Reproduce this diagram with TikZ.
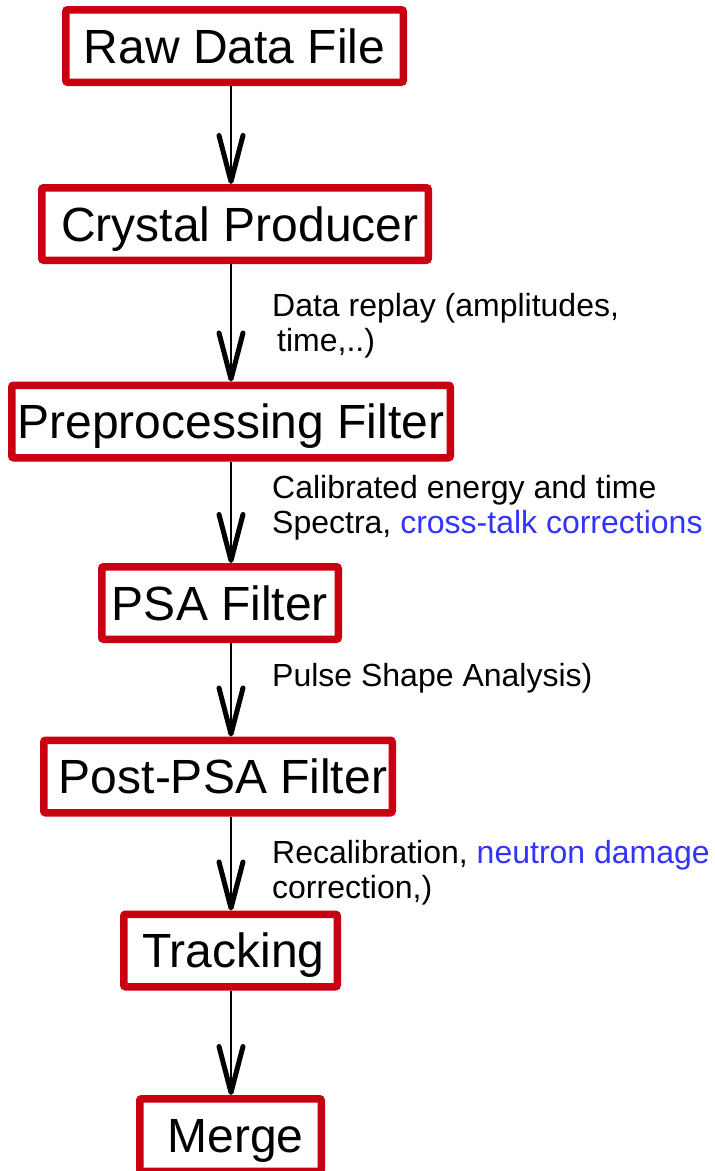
\documentclass[tikz,border=0pt]{standalone}
\usepackage{fontspec}
\setmainfont{Liberation Sans}
\usetikzlibrary{arrows.meta}
\definecolor{boxred}{RGB}{200,0,18}
\definecolor{noteblue}{RGB}{51,51,255}

\begin{document}
\begin{tikzpicture}[x=1pt,y=-1pt,
  stage/.style={draw=boxred,line width=7.5pt,rounded corners=2pt,inner sep=0pt,
    minimum height=72.5pt,text height=34pt,text depth=0pt,
    font=\fontsize{48}{56}\selectfont},
  flow/.style={line width=2pt,-{Straight Barb[length=46pt,width=24pt,line width=5pt,round]}},
  note/.style={anchor=base west,align=left,inner sep=0pt,
    font=\fontsize{32}{35}\selectfont}]
%%Frame
\useasboundingbox (0,0) rectangle (715,1171);
\coordinate (spine) at (231,0);

%%Stages
\node[stage,minimum width=337.5pt] (raw) at (234.5,46) {Raw Data File};
\node[stage,minimum width=386.5pt] (crystal) at (235,224) {\hspace{10pt}Crystal Producer};
\node[stage,minimum width=438.5pt] (prep) at (231,421.5) {Preprocessing Filter\hspace{4pt}};
\node[stage,minimum width=236.5pt] (psa) at (220,603) {PSA Filter\hspace{14pt}};
\node[stage,minimum width=348.5pt] (postpsa) at (218,776.5) {\hspace{10pt}Post-PSA Filter};
\node[stage,minimum width=213.5pt] (track) at (230.5,950.5) {\hspace{6pt}Tracking};
\node[stage,minimum width=181.5pt] (merge) at (230.5,1135) {\hspace{10pt}Merge};

%%Flow
\draw[flow] (raw.south -| spine) -- (crystal.north -| spine);
\draw[flow] (crystal.south -| spine) -- (prep.north -| spine);
\draw[flow] (prep.south -| spine) -- (psa.north -| spine);
\draw[flow] (psa.south -| spine) -- (postpsa.north -| spine);
\draw[flow] (postpsa.south -| spine) -- (track.north -| spine);
\draw[flow] (track.south -| spine) -- (merge.north -| spine);

%%Notes (base = last line)
\node[note] (replay) at (272,351) {Data replay (amplitudes,\\\hspace{5pt}time,..)};
\node[note] (calib) at (272,533) {Calibrated energy and time\\Spectra, \textcolor{noteblue}{cross-talk corrections}};
\node[note] (pulse) at (272,686) {Pulse Shape Analysis)};
\node[note] (recal) at (272,898) {Recalibration, \textcolor{noteblue}{neutron damage}\\correction,)};

\end{tikzpicture}
\end{document}
